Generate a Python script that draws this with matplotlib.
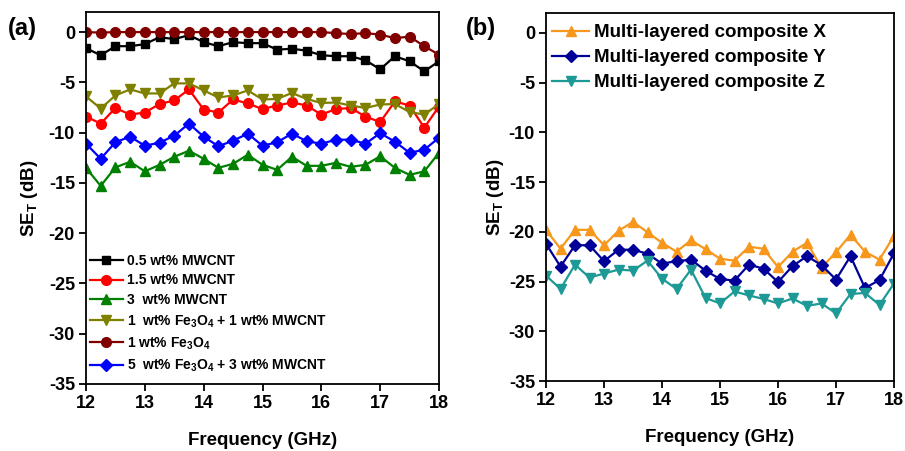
import numpy as np
import matplotlib
matplotlib.use("Agg")
import matplotlib.pyplot as plt

plt.rcParams['font.family'] = ['Liberation Sans', 'DejaVu Sans']
plt.rcParams['font.weight'] = 'bold'
plt.rcParams['axes.unicode_minus'] = False
plt.rcParams['mathtext.fontset'] = 'custom'
plt.rcParams['mathtext.rm'] = 'Liberation Sans:bold'
plt.rcParams['mathtext.bf'] = 'Liberation Sans:bold'
plt.rcParams['mathtext.it'] = 'Liberation Sans:bold'

# frequency points, 12-18 GHz in 0.25 steps
freq = np.arange(12, 18.001, 0.25)

# panel (a)
mwcnt_05 = [-1.6, -2.3, -1.4, -1.4, -1.2, -0.5, -0.7, -0.3, -1.0, -1.4, -1.0, -1.1, -1.1,
            -1.75, -1.65, -1.85, -2.3, -2.4, -2.4, -2.8, -3.7, -2.4, -2.9, -3.9, -2.9]
mwcnt_15 = [-8.4, -9.1, -7.55, -8.2, -8.0, -7.15, -6.8, -5.7, -7.7, -8.0, -6.7, -7.1, -7.65,
            -7.3, -7.0, -7.3, -8.2, -7.65, -7.55, -8.4, -8.95, -6.9, -7.3, -9.5, -7.4]
mwcnt_3 = [-13.5, -15.3, -13.45, -12.9, -13.85, -13.2, -12.4, -11.8, -12.6, -13.5, -13.1, -12.2, -13.2,
           -13.7, -12.4, -13.3, -13.3, -13.0, -13.4, -13.2, -12.35, -13.5, -14.2, -13.85, -12.0]
fe1_mw1 = [-6.4, -7.6, -6.3, -5.7, -6.1, -6.1, -5.1, -5.1, -5.8, -6.5, -6.3, -5.8, -6.7,
           -6.65, -6.05, -6.65, -7.05, -7.0, -7.3, -7.55, -7.2, -7.15, -7.95, -8.2, -7.15]
fe1 = [0.0, -0.05, 0.0, 0.0, 0.0, 0.0, 0.0, 0.0, 0.0, 0.0, 0.0, 0.0, 0.0,
       0.0, 0.0, 0.0, 0.0, -0.1, -0.2, -0.1, -0.25, -0.6, -0.45, -1.4, -2.25]
fe5_mw3 = [-11.1, -12.6, -10.95, -10.4, -11.3, -11.0, -10.3, -9.1, -10.4, -11.35, -10.8, -10.1, -11.3,
           -10.95, -10.1, -10.85, -11.1, -10.7, -10.7, -11.1, -10.05, -10.9, -12.0, -11.7, -10.5]

# panel (b)
comp_x = [-19.8, -21.7, -19.8, -19.8, -21.35, -19.9, -19.0, -20.05, -21.1, -22.0, -20.85, -21.75, -22.7,
          -22.9, -21.5, -21.7, -23.55, -22.0, -21.1, -23.6, -22.05, -20.3, -22.0, -22.8, -20.4]
comp_y = [-21.2, -23.5, -21.35, -21.35, -22.95, -21.8, -21.8, -22.2, -23.2, -22.95, -22.8, -23.9, -24.75,
          -24.9, -23.3, -23.7, -25.05, -23.45, -22.45, -23.35, -24.8, -22.45, -25.65, -24.85, -22.15]
comp_z = [-24.4, -25.75, -23.3, -24.6, -24.2, -23.8, -23.9, -22.9, -24.7, -25.75, -23.8, -26.65, -27.2,
          -26.0, -26.4, -26.75, -27.2, -26.7, -27.45, -27.2, -28.2, -26.25, -26.15, -27.35, -25.2]

fig = plt.figure(figsize=(9.05, 4.51), dpi=100)
ax1 = fig.add_axes([86/905, 67/451, 353/905, 372/451])
ax2 = fig.add_axes([546/905, 70/451, 348/905, 368/451])

ms = 6.5
lw = 1.6
ax1.plot(freq, mwcnt_05, '-s', color='black', ms=ms - 0.5, lw=lw, label='0.5 wt% MWCNT')
ax1.plot(freq, mwcnt_15, '-o', color='#ff0000', ms=ms + 0.5, lw=lw, label='1.5 wt% MWCNT')
ax1.plot(freq, mwcnt_3, '-^', color='#008000', ms=ms + 1, lw=lw, label='3  wt% MWCNT')
ax1.plot(freq, fe1_mw1, '-v', color='#808000', ms=ms + 1, lw=lw,
         label=r'1  wt% Fe$_3$O$_4$ + 1 wt% MWCNT')
ax1.plot(freq, fe1, '-o', color='#800000', ms=ms + 0.5, lw=lw, label=r'1 wt% Fe$_3$O$_4$')
ax1.plot(freq, fe5_mw3, '-D', color='#0000ff', ms=ms - 0.5, lw=lw,
         label=r'5  wt% Fe$_3$O$_4$ + 3 wt% MWCNT')

ax2.plot(freq, comp_x, '-^', color='#f7981d', ms=ms + 1, lw=lw, label='Multi-layered composite X')
ax2.plot(freq, comp_y, '-D', color='#000099', ms=ms - 0.5, lw=lw, label='Multi-layered composite Y')
ax2.plot(freq, comp_z, '-v', color='#1e9a96', ms=ms + 1, lw=lw, label='Multi-layered composite Z')

for ax in (ax1, ax2):
    ax.set_xlim(12, 18)
    ax.set_ylim(-35, 2)
    ax.set_xticks(range(12, 19))
    ax.set_yticks(range(-35, 1, 5))
    ax.tick_params(direction='out', length=5, width=1.3, labelsize=13, pad=3)
    for lab in ax.get_xticklabels() + ax.get_yticklabels():
        lab.set_fontweight('bold')
    for sp in ax.spines.values():
        sp.set_linewidth(1.3)
    ax.set_xlabel('Frequency (GHz)', fontsize=13.5, fontweight='bold', labelpad=14)
ax1.set_ylabel(r'SE$_\mathrm{T}$ (dB)', fontsize=13.5, fontweight='bold', labelpad=6)
ax2.set_ylabel(r'SE$_\mathrm{T}$ (dB)', fontsize=13.5, fontweight='bold', labelpad=2)

ax1.legend(loc='lower left', frameon=False, handlelength=2.4,
           handletextpad=0.3, labelspacing=0.42, borderaxespad=0.0,
           bbox_to_anchor=(-0.005, 0.012), prop={'weight': 'bold', 'size': 10})
ax2.legend(loc='upper left', frameon=False, handlelength=2.0,
           handletextpad=0.25, labelspacing=0.42, borderaxespad=0.0,
           bbox_to_anchor=(-0.005, 0.99), prop={'weight': 'bold', 'size': 13.5})

fig.text(8/905, 1 - 28/451, '(a)', fontsize=17, fontweight='bold', va='center', ha='left')
fig.text(466/905, 1 - 28/451, '(b)', fontsize=17, fontweight='bold', va='center', ha='left')

fig.savefig('out.png', dpi=100)
